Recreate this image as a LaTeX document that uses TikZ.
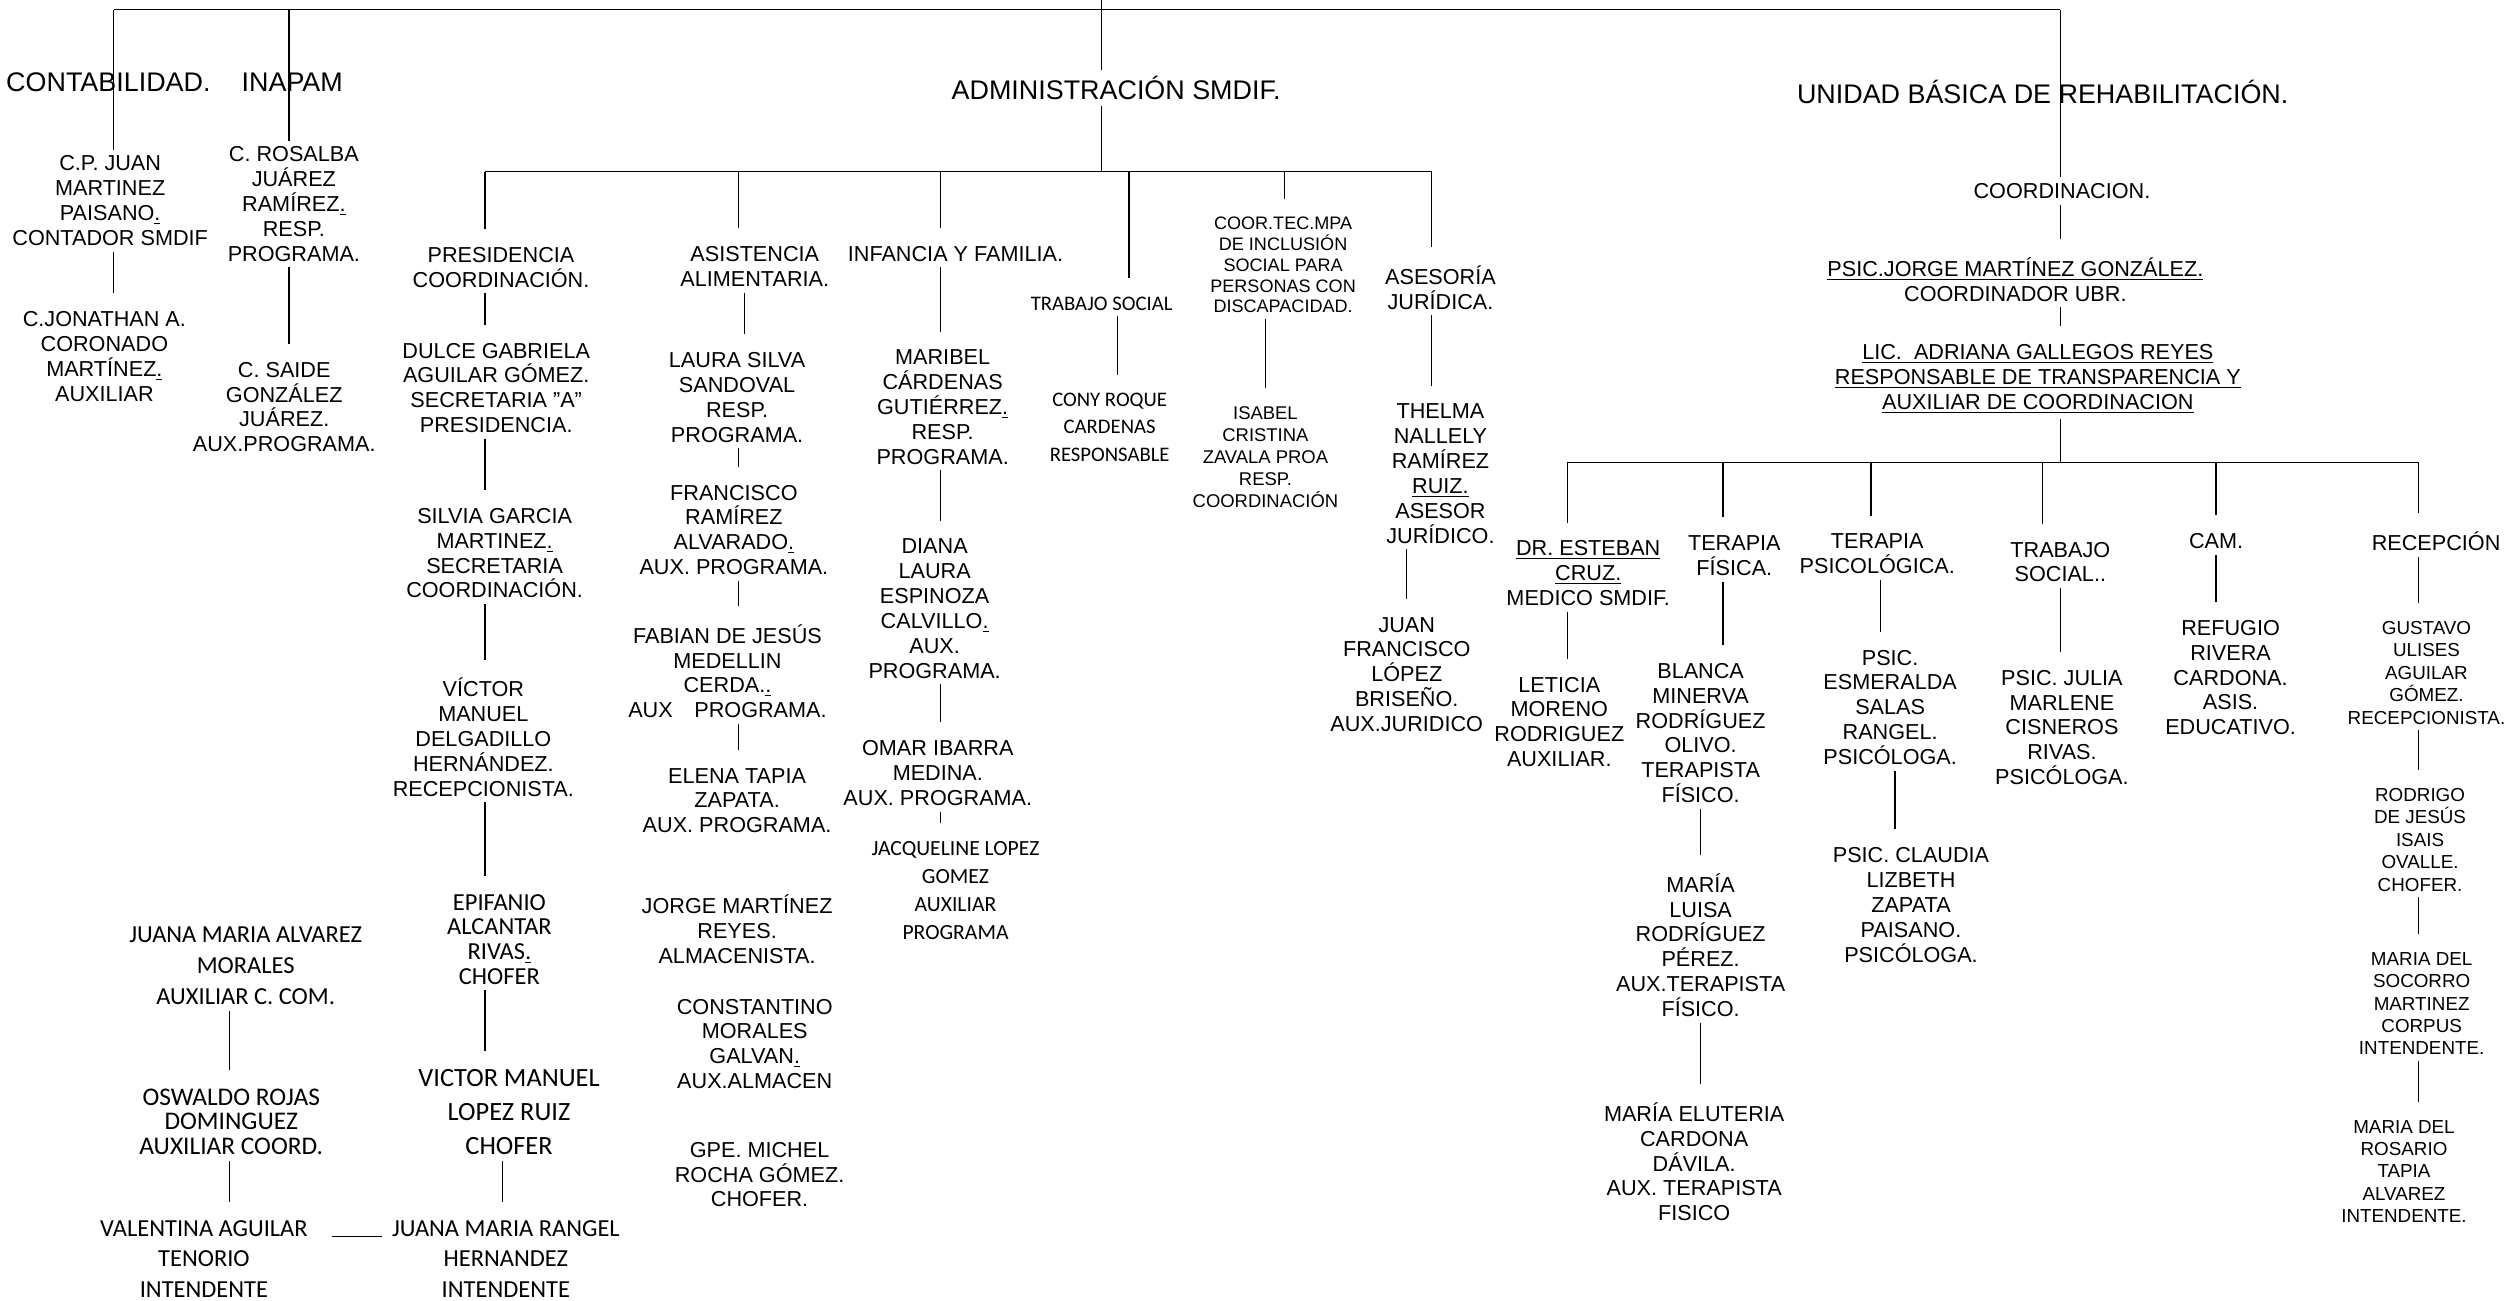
\documentclass[tikz,border=0pt]{standalone}
\usepackage{fontspec}
\setmainfont{Liberation Sans}
\newfontfamily\calfont{Carlito}
\usetikzlibrary{calc}

\begin{document}
\begin{tikzpicture}[x=0.3mm, y=-0.3mm,
    hdr/.style={inner sep=3pt, font=\fontsize{14.3}{17}\selectfont},
    txt/.style={inner sep=3pt, align=center, font=\fontsize{11.5}{13.2}\selectfont},
    sml/.style={inner sep=3pt, align=center, font=\fontsize{9.6}{11.1}\selectfont},
    smr/.style={inner sep=3pt, align=center, font=\fontsize{10}{11.9}\selectfont},
    cal/.style={inner sep=3pt, align=center, font=\calfont\fontsize{13}{16.2}\selectfont},
    wire/.style={line width=0.7pt},
    conn/.style={line width=0.7pt, shorten >=6.5pt}]
  \useasboundingbox (0,0) rectangle (1568,810);

  \coordinate (root) at (686,0);
  \coordinate (tl) at (70.7,6);
  \coordinate (tr) at (1283,6);
  \coordinate (colB) at (180,0);
  \coordinate (colC) at (313,0);
  \coordinate (colD) at (143,0);
  \coordinate (colE) at (463.6,0);
  \coordinate (colF) at (696,0);
  \coordinate (colG) at (1171,0);
  \coordinate (colH) at (1180,0);
  % barra de administracion
  \coordinate (a1) at (302,107);
  \coordinate (a2) at (460,107);
  \coordinate (a3) at (585.5,107);
  \coordinate (a4) at (703,107);
  \coordinate (a5) at (800,107);
  \coordinate (a6) at (891.5,107);
  % barra de la UBR
  \coordinate (u0) at (1283,288);
  \coordinate (u1) at (976,288);
  \coordinate (u2) at (1073,288);
  \coordinate (u3) at (1165,288);
  \coordinate (u4) at (1272,288);
  \coordinate (u5) at (1380,288);
  \coordinate (u6) at (1506,288);
  \coordinate (vr) at (0,770);

  % encabezados
  \node[hdr] (contab) at (67.5,51) {CONTABILIDAD.};
  \node[hdr] (inapam) at (182,51) {INAPAM};
  \node[hdr] (admin) at (695,55) {ADMINISTRACIÓN SMDIF.};
  \node[hdr] (ubr) at (1272,57) {UNIDAD BÁSICA DE REHABILITACIÓN.};

  \node[txt] (cpjuan) at (68.6,125) {C.P. JUAN\\MARTINEZ\\PAISANO\underline{.}\\CONTADOR SMDIF};
  \node[txt] (jonathan) at (65,222) {C.JONATHAN A.\\CORONADO\\MARTÍNEZ\underline{.}\\AUXILIAR};
  \node[txt] (rosalba) at (183,127) {C. ROSALBA\\JUÁREZ\\RAMÍREZ\underline{.}\\RESP.\\PROGRAMA.};
  \node[txt] (saide) at (177,253.5) {C. SAIDE\\GONZÁLEZ\\JUÁREZ.\\AUX.PROGRAMA.};

  \node[txt] (pres) at (312,166.5) {PRESIDENCIA\\COORDINACIÓN.};
  \node[txt] (dulce) at (309,241.5) {DULCE GABRIELA\\AGUILAR GÓMEZ.\\SECRETARIA "A"\\PRESIDENCIA.};
  \node[txt] (silvia) at (308,344.5) {SILVIA GARCIA\\MARTINEZ\underline{.}\\SECRETARIA\\COORDINACIÓN.};
  \node[txt] (victor) at (301,459) {VÍCTOR\\MANUEL\\DELGADILLO\\HERNÁNDEZ.\\RECEPCIONISTA.};
  \node[cal, font=\calfont\fontsize{13}{13.1}\selectfont] (epifanio) at (311,585) {EPIFANIO\\ALCANTAR\\RIVAS\underline{.}\\CHOFER};
  \node[cal, font=\calfont\fontsize{14}{18.3}\selectfont] (vmlopez) at (317,692.5) {VICTOR MANUEL\\LOPEZ RUIZ\\CHOFER};
  \node[cal] (rangel) at (315,784) {JUANA MARIA RANGEL\\HERNANDEZ\\INTENDENTE};
  \node[cal, font=\calfont\fontsize{13}{16.6}\selectfont] (jmalvarez) at (153,601.5) {JUANA MARIA ALVAREZ\\MORALES\\AUXILIAR C. COM.};
  \node[cal, font=\calfont\fontsize{13.5}{13.2}\selectfont] (oswaldo) at (144,698.5) {OSWALDO ROJAS\\DOMINGUEZ\\AUXILIAR COORD.};
  \node[cal] (valentina) at (127,784) {VALENTINA AGUILAR\\TENORIO\\INTENDENTE};

  \node[txt] (asis) at (470,166) {ASISTENCIA\\ALIMENTARIA.};
  \node[txt] (laura) at (459,247.5) {LAURA SILVA\\SANDOVAL\\RESP.\\PROGRAMA.};
  \node[txt] (francisco) at (457,330) {FRANCISCO\\RAMÍREZ\\ALVARADO\underline{.}\\AUX. PROGRAMA.};
  \node[txt] (fabian) at (453,418) {FABIAN DE JESÚS\\MEDELLIN\\CERDA.\underline{.}\\AUX\quad PROGRAMA.};
  \node[txt] (elena) at (459,498.5) {ELENA TAPIA\\ZAPATA.\\AUX. PROGRAMA.};
  \node[txt] (jorgem) at (459,578.5) {JORGE MARTÍNEZ\\REYES.\\ALMACENISTA.};
  \node[txt] (const) at (470,650) {CONSTANTINO\\MORALES\\GALVAN\underline{.}\\AUX.ALMACEN};
  \node[txt] (gpe) at (473,731.5) {GPE. MICHEL\\ROCHA GÓMEZ.\\CHOFER.};

  \node[txt] (infancia) at (595,158) {INFANCIA Y FAMILIA.};
  \node[txt] (maribel) at (587,253.5) {MARIBEL\\CÁRDENAS\\GUTIÉRREZ\underline{.}\\RESP.\\PROGRAMA.};
  \node[txt] (diana) at (582,379) {DIANA\\LAURA\\ESPINOZA\\CALVILLO\underline{.}\\AUX.\\PROGRAMA.};
  \node[txt] (omar) at (584,481.5) {OMAR IBARRA\\MEDINA.\\AUX. PROGRAMA.};
  \node[cal, font=\calfont\fontsize{11.5}{15}\selectfont] (jacq) at (595,554.5) {JACQUELINE LOPEZ\\GOMEZ\\AUXILIAR\\PROGRAMA};

  \node[cal, font=\calfont\fontsize{11}{14.5}\selectfont] (tsocial) at (686,189) {TRABAJO SOCIAL};
  \node[cal, font=\calfont\fontsize{11}{14.5}\selectfont] (cony) at (691,266) {CONY ROQUE\\CARDENAS\\RESPONSABLE};

  \node[sml] (coortec) at (799,165) {COOR.TEC.MPA\\DE INCLUSIÓN\\SOCIAL PARA\\PERSONAS CON\\DISCAPACIDAD.};
  \node[sml, font=\fontsize{9.8}{11.7}\selectfont] (isabel) at (788,284.5) {ISABEL\\CRISTINA\\ZAVALA PROA\\RESP.\\COORDINACIÓN};

  \node[txt] (asesoria) at (897,179) {ASESORÍA\\JURÍDICA.};
  \node[txt] (thelma) at (897,295) {THELMA\\NALLELY\\RAMÍREZ\\\underline{RUIZ.}\\ASESOR\\JURÍDICO.};
  \node[txt] (juanfco) at (876,420) {JUAN\\FRANCISCO\\LÓPEZ\\BRISEÑO.\\AUX.JURIDICO};

  \node[txt] (coordin) at (1284,119) {COORDINACION.};
  \node[txt] (jorge) at (1255,174) {\underline{PSIC.JORGE MARTÍNEZ GONZÁLEZ.}\\COORDINADOR UBR.};
  \node[txt] (adriana) at (1269,236) {\underline{LIC.\ \ ADRIANA GALLEGOS REYES}\\\underline{RESPONSABLE DE TRANSPARENCIA Y}\\\underline{AUXILIAR DE COORDINACION}};

  \node[txt] (esteban) at (989,357) {\underline{DR. ESTEBAN}\\\underline{CRUZ.}\\MEDICO SMDIF.};
  \node[txt] (leticia) at (971,449.5) {LETICIA\\MORENO\\RODRIGUEZ\\AUXILIAR.};
  \node[txt] (tfisica) at (1080,346) {TERAPIA\\FÍSICA.};
  \node[txt] (blanca) at (1059,456.5) {BLANCA\\MINERVA\\RODRÍGUEZ\\OLIVO.\\TERAPISTA\\FÍSICO.};
  \node[txt] (mluisa) at (1059,588.5) {MARÍA\\LUISA\\RODRÍGUEZ\\PÉREZ.\\AUX.TERAPISTA\\FÍSICO.};
  \node[txt] (eluteria) at (1055,723.5) {MARÍA ELUTERIA\\CARDONA\\DÁVILA.\\AUX. TERAPISTA\\FISICO};
  \node[txt] (tpsico) at (1169,345) {TERAPIA\\PSICOLÓGICA.};
  \node[txt] (esmeralda) at (1177,440.5) {PSIC.\\ESMERALDA\\SALAS\\RANGEL.\\PSICÓLOGA.};
  \node[txt] (claudia) at (1190,563.5) {PSIC. CLAUDIA\\LIZBETH\\ZAPATA\\PAISANO.\\PSICÓLOGA.};
  \node[txt] (tsocial2) at (1283,350) {TRABAJO\\SOCIAL..};
  \node[txt] (julia) at (1284,453) {PSIC. JULIA\\MARLENE\\CISNEROS\\RIVAS.\\PSICÓLOGA.};
  \node[txt] (cam) at (1380,337) {CAM.};
  \node[txt] (refugio) at (1389,422) {REFUGIO\\RIVERA\\CARDONA.\\ASIS.\\EDUCATIVO.};
  \node[txt] (recep) at (1517,337) {RECEPCIÓN};
  \node[smr] (gustavo) at (1511,419) {GUSTAVO\\ULISES\\AGUILAR\\GÓMEZ.\\RECEPCIONISTA.};
  \node[smr] (rodrigo) at (1507,523) {RODRIGO\\DE JESÚS\\ISAIS\\OVALLE.\\CHOFER.};
  \node[smr] (socorro) at (1508,625) {MARIA DEL\\SOCORRO\\MARTINEZ\\CORPUS\\INTENDENTE.};
  \node[smr] (rosario) at (1497,729.5) {MARIA DEL\\ROSARIO\\TAPIA\\ALVAREZ\\INTENDENTE.};

  % lineas superiores
  \draw[wire] (tl) -- (tr);
  \draw[wire] (tl) -- (tl |- cpjuan.north);
  \draw[wire] (colB |- tl) -- (colB |- rosalba.north);
  \draw[wire] (tr) -- (tr |- coordin.north);
  \draw[wire] (root) -- (root |- admin.north);
  \draw[wire] (root |- admin.south) -- (root |- a1);
  \draw[wire] (a1) -- (a6);
  \draw[wire] (u0 |- adriana.south) -- (u0);
  \draw[wire] (u1) -- (u6);

  \foreach \p/\n in {a1/pres, a2/asis, a3/infancia, a4/tsocial, a5/coortec, a6/asesoria,
                     u1/esteban, u2/tfisica, u3/tpsico, u4/tsocial2, u5/cam, u6/recep}
    \draw[conn] (\p) -- (\p |- \n.north);

  \foreach \a/\b/\c in {cpjuan/jonathan/tl, rosalba/saide/colB,
                        pres/dulce/a1, dulce/silvia/a1, silvia/victor/a1, victor/epifanio/a1,
                        epifanio/vmlopez/a1, vmlopez/rangel/colC,
                        jmalvarez/oswaldo/colD, oswaldo/valentina/colD,
                        asis/laura/colE, laura/francisco/a2, francisco/fabian/a2, fabian/elena/a2,
                        infancia/maribel/a3, maribel/diana/a3, diana/omar/a3, omar/jacq/a3,
                        tsocial/cony/colF, coortec/isabel/isabel,
                        asesoria/thelma/a6, thelma/juanfco/juanfco,
                        coordin/jorge/tr, jorge/adriana/tr,
                        esteban/leticia/u1, tfisica/blanca/u2, blanca/mluisa/mluisa,
                        mluisa/eluteria/mluisa, tpsico/esmeralda/colG, esmeralda/claudia/colH,
                        tsocial2/julia/tsocial2, cam/refugio/u5,
                        recep/gustavo/u6, gustavo/rodrigo/u6, rodrigo/socorro/u6, socorro/rosario/u6}
    \draw[conn] (\c |- \a.south) -- (\c |- \b.north);

  \draw[wire, shorten <=10pt, shorten >=2pt] (valentina.east |- vr) -- (rangel.west |- vr);
\end{tikzpicture}
\end{document}
